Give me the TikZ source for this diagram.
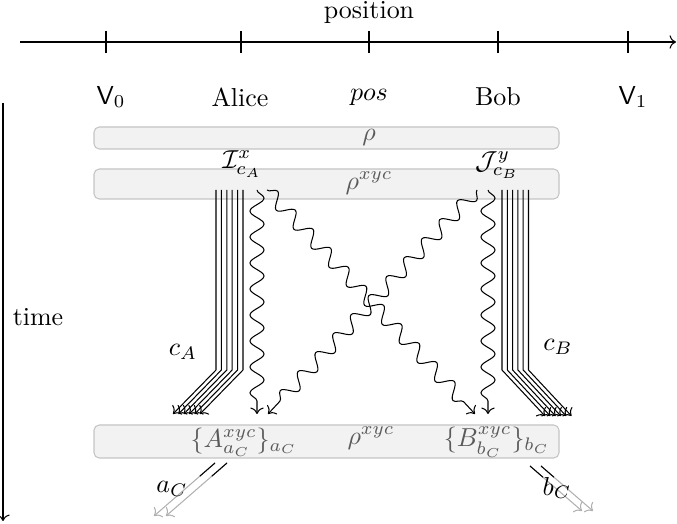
\documentclass[tikz,border=0pt]{standalone}
\usetikzlibrary{decorations.pathmorphing,arrows.meta,calc}
\definecolor{boxfill}{HTML}{F2F2F2}
\definecolor{boxdraw}{HTML}{C4C4C4}
\definecolor{intext}{HTML}{5A5A5A}
\definecolor{outgray}{HTML}{B0B0B0}
\begin{document}
\begin{tikzpicture}[x=0.385pt,y=-0.385pt,
  statebox/.style={draw=boxdraw,fill=boxfill,rounded corners=2pt,minimum width={465*0.385pt},inner sep=0pt},
  intxt/.style={text=intext,inner sep=0pt},
  lbl/.style={inner sep=0pt},
  wave/.style={->,decorate,decoration={snake,amplitude=2.7pt,segment length=10pt,post length=3pt}},
  bundle/.style={->},
  outline/.style={draw=outgray,->},
]
\useasboundingbox (0,0) rectangle (677,524);
% position axis
\draw[->] (20,42) -- (676,42);
\foreach \x in {106,241,369,498,628} \draw (\x,31) -- (\x,53);
\node[lbl] (position) at (369,12) {position};
\node[lbl] (v0) at (111,97) {$\mathsf{V}_0$};
\node[lbl] (alice) at (240,97) {Alice};
\node[lbl] (pos) at (369,97) {$pos$};
\node[lbl] (bob) at (498,97) {Bob};
\node[lbl] (v1) at (633,97) {$\mathsf{V}_1$};
% time axis
\draw[->] (3,103) -- (3,521);
\node[lbl] (time) at (38,317) {time};
% boxes
\node[statebox,minimum height={22*0.385pt}] (box1) at (326.5,138) {};
\node[statebox,minimum height={30*0.385pt}] (box2) at (326.5,184) {};
\node[statebox,minimum height={33*0.385pt}] (box3) at (326.5,441.5) {};
\node[intxt] (rho1) at (369,137) {$\rho$};
\node[intxt] (rho2) at (369,183) {$\rho^{xyc}$};
\node[intxt] (rho3) at (371,438) {$\rho^{xyc}$};
\node[intxt] (setA) at (244,442) {$\{A^{xyc}_{a_C}\}_{a_C}$};
\node[intxt] (setB) at (497,442) {$\{B^{xyc}_{b_C}\}_{b_C}$};
\node[lbl] (instA) at (242,164) {$\mathcal{I}^{x}_{c_A}$};
\node[lbl] (instB) at (497,165) {$\mathcal{J}^{y}_{c_B}$};
\node[lbl] (cA) at (183,352) {$c_A$};
\node[lbl] (cB) at (558,347) {$c_B$};
% classical bundles
\foreach \i in {0,...,5} {
  \coordinate (aS\i) at ({216+5.4*\i},190);
  \coordinate (aM\i) at ({216+5.4*\i},370);
  \coordinate (aE\i) at ({173+5.4*\i},414);
  \draw[bundle] (aS\i) -- (aM\i) -- (aE\i);
  \coordinate (bS\i) at ({502+5.3*\i},190);
  \coordinate (bM\i) at ({502+5.3*\i},370);
  \coordinate (bE\i) at ({545+5.3*\i},416);
  \draw[bundle] (bS\i) -- (bM\i) -- (bE\i);
}
% quantum waves
\coordinate (qa1) at (257,190); \coordinate (qa1e) at (257,414);
\coordinate (qa2) at (267,190); \coordinate (qa2e) at (475,414);
\coordinate (qb1) at (488,190); \coordinate (qb1e) at (488,414);
\coordinate (qb2) at (477,190); \coordinate (qb2e) at (268,414);
\draw[wave] (qa1) -- (qa1e);
\draw[wave] (qa2) -- (qa2e);
\draw[wave] (qb1) -- (qb1e);
\draw[wave] (qb2) -- (qb2e);
% outputs
\coordinate (oa1) at (215,463); \coordinate (oa1e) at (154,516);
\coordinate (oa2) at (227,463); \coordinate (oa2e) at (166,516);
\coordinate (ob1) at (530,466); \coordinate (ob1e) at (582,511);
\coordinate (ob2) at (541,466); \coordinate (ob2e) at (593,511);
\draw[outline] (oa1) -- (oa1e);
\draw[outline] (oa2) -- (oa2e);
\draw[outline] (ob1) -- (ob1e);
\draw[outline] (ob2) -- (ob2e);
\draw (oa1) -- ($(oa1)!0.25!(oa1e)$);
\draw (oa2) -- ($(oa2)!0.25!(oa2e)$);
\draw (ob1) -- ($(ob1)!0.25!(ob1e)$);
\draw (ob2) -- ($(ob2)!0.25!(ob2e)$);
\node[lbl] (aC) at (172,489) {$a_C$};
\node[lbl] (bC) at (557,488) {$b_C$};
\end{tikzpicture}
\end{document}
